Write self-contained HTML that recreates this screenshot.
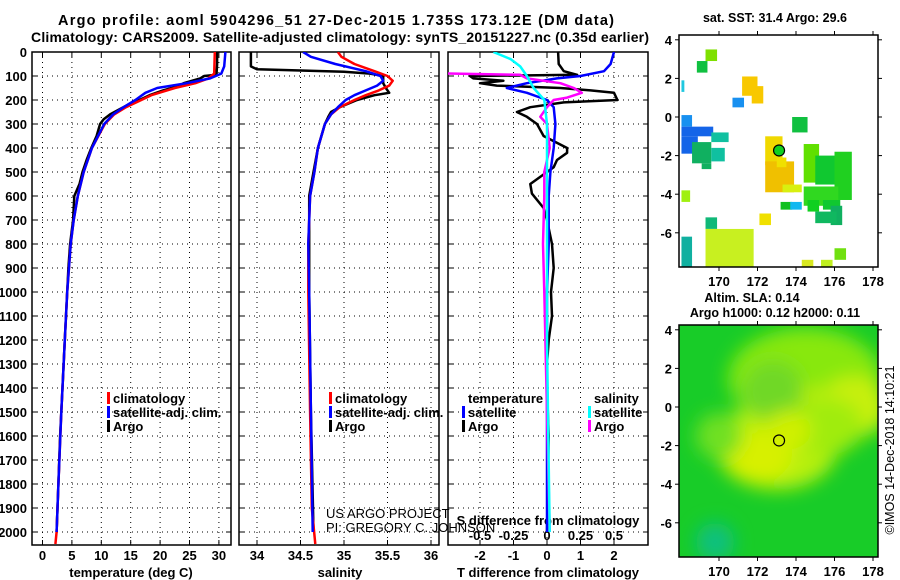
<!DOCTYPE html>
<html><head><meta charset="utf-8">
<style>
html,body{margin:0;padding:0;background:#fff;}
svg{display:block;font-family:"Liberation Sans",Arial,sans-serif;}
.b{font-weight:bold;}
</style></head>
<body>
<svg id="chart" width="900" height="580" viewBox="0 0 900 580"></svg>
<script>
// ---------- data ----------
const depthTicks=[0,100,200,300,400,500,600,700,800,900,1000,1100,1200,1300,1400,1500,1600,1700,1800,1900,2000];
const tempTicks=[0,5,10,15,20,25,30];
const salTicks=[34,34.5,35,35.5,36];
const tdiffTicks=[-2,-1,0,1,2];
const sdiffTicks=[-0.5,-0.25,0,0.25,0.5];
const sdiffLabels=["-0.5","-0.25","0","0.25","0.5"];

const tArgoD=[0,50,95,100,110,130,140,160,180,200,220,240,260,280,300,350,400,450,500,550,600,700,800,900,1000,1200,1400,1600,1800,2000];
const tArgoV=[29.7,29.7,29.6,27.5,26.8,24,23.4,20.5,18.2,16.5,14.5,13,11.5,10.4,9.8,9.2,8.3,7.5,6.8,6.3,5.4,5.2,4.7,4.4,4.2,3.8,3.4,3.0,2.7,2.4];
const tClimD=[0,90,110,130,150,180,200,230,260,300,400,500,600,700,800,1000,1200,1500,1800,2000,2050];
const tClimV=[29.3,29.2,28.2,26,22.5,18.5,16.8,14.2,12.2,10.6,8.4,7.0,6.0,5.3,4.8,4.2,3.8,3.2,2.7,2.4,2.2];
const tSatD=[0,60,90,110,130,150,170,200,230,260,300,400,500,600,700,800,1000,1200,1500,1800,2000];
const tSatV=[31.1,30.9,30.4,28.5,24.5,19.5,17.5,15.8,13.8,12.0,10.5,8.4,7.0,6.0,5.3,4.8,4.2,3.8,3.2,2.7,2.4];

const sArgoD=[0,60,72,78,82,90,100,130,150,170,180,200,230,250,270,300,350,400,500,600,800,1000,1500,2000];
const sArgoV=[33.93,33.93,34.0,34.6,35.0,35.3,35.45,35.45,35.48,35.52,35.35,35.15,34.95,34.85,34.82,34.78,34.74,34.7,34.65,34.6,34.6,34.6,34.62,34.65];
const sClimD=[0,20,50,80,100,120,140,160,180,200,230,260,300,400,500,600,800,1000,1500,1900,2050];
const sClimV=[34.93,34.97,35.12,35.35,35.5,35.56,35.52,35.4,35.25,35.12,34.95,34.85,34.78,34.7,34.66,34.61,34.59,34.59,34.61,34.63,34.67];
const sSatD=[0,20,50,80,100,120,140,160,180,200,230,260,300,400,500,600,800,1000,1500,2000];
const sSatV=[34.53,34.62,34.9,35.25,35.42,35.45,35.38,35.25,35.12,35.02,34.93,34.85,34.78,34.7,34.66,34.61,34.59,34.6,34.62,34.64];

const dTArgoD=[0,50,80,95,100,110,120,130,140,150,160,170,200,210,230,250,270,300,350,400,420,450,480,500,550,590,650,700,800,900,1000,1100,1200,1300,1400,1600,2000];
const dTArgoV=[0.33,0.35,0.5,0.9,-2.3,-2.2,-1.3,-2.0,-1.5,0.4,1.3,2.0,2.1,0.5,-0.5,-0.9,-0.6,-0.3,-0.1,0.6,0.6,0.3,0.2,0.0,-0.5,-0.45,-0.1,0.0,0.15,0.2,0.12,0.15,0.05,0.0,0.0,0.05,0.0];
const dTSatD=[0,50,80,100,110,130,150,170,200,230,300,400,500,600,800,1000,1500,2000];
const dTSatV=[2.0,1.9,1.7,1.0,0.3,-0.6,-1.2,-0.6,0.0,0.2,0.25,0.2,0.1,0.05,0.05,0.0,0.0,0.0];
const dSSatD=[0,30,60,100,150,200,300,500,800,1200,1600,2000];
const dSSatV=[-0.4,-0.27,-0.2,-0.15,-0.1,-0.02,0.0,0.0,0.0,0.0,0.01,0.02];
const dSArgoD=[0,88,95,110,130,150,170,190,200,230,270,300,400,500,600,800,1000,1500,2000];
const dSArgoV=[-1.0,-0.9,-0.2,-0.15,0.1,0.2,0.26,0.15,0.05,0.0,-0.05,0.0,0.02,-0.02,-0.02,-0.03,-0.02,0.0,0.02];

// map 1 (SST) blocks: lon0, lat0 (top-left), lon1, lat1, colour
const sstLon0=[169.3,168.85,168.05,171.2,171.7,170.7,168.05,168.05,168.05,169.6,168.6,169.6,169.1,172.4,173.8,172.4,174.4,173.3,175.0,176.0,174.4,175.4,173.2,173.7,174.6,175.8,175.0,172.1,169.3,169.3,168.05,168.05,176.0,174.3,175.3,173.0];
const sstLat0=[3.5,2.9,1.9,2.1,1.6,1.0,0.1,-0.5,-1.0,-0.8,-1.3,-1.6,-2.4,-1.0,0.0,-2.3,-1.4,-3.5,-2.0,-1.8,-3.6,-4.3,-4.4,-4.4,-4.3,-4.6,-4.9,-5.0,-5.2,-5.8,-6.2,-3.8,-6.8,-7.4,-7.4,-2.1];
const sstLon1=[169.9,169.4,168.2,172.0,172.3,171.3,168.6,169.7,168.9,170.5,169.6,170.3,169.6,173.3,174.6,173.9,175.2,174.3,176.2,176.9,176.2,176.3,173.8,174.3,175.2,176.4,176.1,172.7,169.9,171.8,168.6,168.5,176.6,174.9,175.9,173.5];
const sstLat1=[2.9,2.3,1.3,1.1,0.7,0.5,-0.5,-1.0,-1.9,-1.3,-2.4,-2.3,-2.7,-2.5,-0.8,-3.9,-3.4,-3.9,-3.5,-4.3,-4.6,-4.8,-4.8,-4.8,-4.9,-5.6,-5.5,-5.6,-5.8,-7.8,-7.8,-4.4,-7.4,-7.8,-7.8,-2.6];
const sstCol=["#7ee000","#10c040","#20c8e0","#f8c800","#f8c800","#1890f0","#1890f0","#1464e8","#1464e8","#10c0a0","#10b060","#10c0a0","#10b060","#f0d800","#10c040","#f0c000","#60e000","#d8f010","#10c830","#20d020","#30d820","#10c830","#10c020","#10b8f0","#10d020","#10b060","#10b860","#f0e000","#10b878","#c8f020","#10b0a0","#a0f010","#70e010","#d8e820","#c0f020","#f0e000"];

const mapLonTicks=[170,172,174,176,178];
const mapLatTicks=[4,2,0,-2,-4,-6];
const stationLon=[173.12];
const stationLat=[-1.735];

// map 2 (SLA) blobs: lon, lat, radius-lon, radius-lat, colour
const slaLon=[174.5,173.0,172.0,174.0,177.0,172.8,175.5,169.8,173.6,170.0];
const slaLat=[1.5,-2.0,-2.5,-0.5,0.0,0.8,-1.0,-7.0,-1.2,-1.5];
const slaRx=[4.0,3.2,1.8,2.2,1.8,1.6,2.0,1.0,1.2,1.2];
const slaRy=[2.6,2.3,1.3,1.6,1.6,1.6,1.5,1.0,1.0,1.2];
const slaCol=["#88e810","#b8f010","#d8f000","#c8f000","#c8f010","#70d828","#a0ec10","#10c080","#d0f000","#70e020"];

// ---------- helpers ----------
const NS="http://www.w3.org/2000/svg";
const svg=document.getElementById('chart');
function el(tag,attrs,parent){const e=document.createElementNS(NS,tag);for(const k in attrs)e.setAttribute(k,attrs[k]);(parent||svg).appendChild(e);return e;}
function txt(x,y,s,attrs,parent){const t=el('text',Object.assign({x:x,y:y},attrs),parent);t.textContent=s;return t;}

const yD=d=>52+d*0.24;
const PT=52, PB=545;
const xT=v=>42.5+v*5.88;
const xS=v=>257+(v-34)*87;
const xTd=v=>547+v*33.5;
const xSd=v=>547+v*134;
const panels=[{l:32,r:231,name:'temperature'},{l:239,r:439,name:'salinity'},{l:448,r:648,name:'difference'}];

const defs=el('defs',{});
panels.forEach((p,i)=>{const c=el('clipPath',{id:'clip'+i},defs);el('rect',{x:p.l,y:PT,width:p.r-p.l,height:PB-PT},c);});
const cm1=el('clipPath',{id:'clipm1'},defs);el('rect',{x:679,y:35,width:199,height:232},cm1);
const cm2=el('clipPath',{id:'clipm2'},defs);el('rect',{x:679,y:325,width:199,height:232},cm2);
const blur=el('filter',{id:'blur',x:'-50%',y:'-50%',width:'200%',height:'200%'},defs);
el('feGaussianBlur',{stdDeviation:'9'},blur);

let t;
t=txt(336,25,"Argo profile: aoml 5904296_51 27-Dec-2015 1.735S 173.12E (DM data)",{'text-anchor':'middle','font-size':'14.5',class:'b',textLength:'556',lengthAdjust:'spacing'});

t=txt(340,42,"Climatology: CARS2009. Satellite-adjusted climatology: synTS_20151227.nc (0.35d earlier)",{'text-anchor':'middle','font-size':'14',class:'b',textLength:'618',lengthAdjust:'spacing'});


panels.forEach((p,i)=>{
  const g=el('g',{});
  
  
  depthTicks.forEach(d=>{
    const gl=el('line',{x1:p.l,x2:p.r,y1:yD(d),y2:yD(d),stroke:'#000','stroke-width':1,'stroke-dasharray':'1,4'},g);
    
    el('line',{x1:p.l,x2:p.l+5,y1:yD(d),y2:yD(d),stroke:'#000'},g);
    el('line',{x1:p.r-5,x2:p.r,y1:yD(d),y2:yD(d),stroke:'#000'},g);
  });
  let xs,fx;
  if(i===0){xs=tempTicks;fx=xT;}else if(i===1){xs=salTicks;fx=xS;}else{xs=tdiffTicks;fx=xTd;}
  xs.forEach(v=>{
    el('line',{x1:fx(v),x2:fx(v),y1:PT,y2:PB,stroke:'#000','stroke-width':1,'stroke-dasharray':'1,4'},g);
    el('line',{x1:fx(v),x2:fx(v),y1:PB-5,y2:PB,stroke:'#000'},g);
    el('line',{x1:fx(v),x2:fx(v),y1:PT,y2:PT+5,stroke:'#000'},g);
    const lb=txt(fx(v),560,String(v),{'text-anchor':'middle','font-size':'13',class:'b'},g);
    
  });
  const fr=el('rect',{x:p.l,y:PT,width:p.r-p.l,height:PB-PT,fill:'none',stroke:'#000','stroke-width':1.5},g);
  
});
depthTicks.forEach(d=>{
  const lb=txt(27,yD(d)+5,String(d),{'text-anchor':'end','font-size':'13',class:'b'});
  
});
t=txt(131,577,"temperature (deg C)",{'text-anchor':'middle','font-size':'13',class:'b'});
t=txt(340,577,"salinity",{'text-anchor':'middle','font-size':'13',class:'b'});
t=txt(548,577,"T difference from climatology",{'text-anchor':'middle','font-size':'13',class:'b'});
t=txt(548,525,"S difference from climatology",{'text-anchor':'middle','font-size':'13',class:'b'});
sdiffTicks.forEach((v,i)=>{
  const lb=txt(xSd(v),540,sdiffLabels[i],{'text-anchor':'middle','font-size':'13',class:'b'});
  
});

function series(D,V,fx,color,clip,name){
  const pts=D.map((d,i)=>fx(V[i]).toFixed(1)+','+yD(d).toFixed(1)).join(' ');
  const pl=el('polyline',{points:pts,fill:'none',stroke:color,'stroke-width':2.5,'stroke-linejoin':'round','clip-path':'url(#clip'+clip+')'});
  
  
}
series(tArgoD,tArgoV,xT,'#000',0,'temp-argo-line');
series(tClimD,tClimV,xT,'#f00',0,'temp-climatology-line');
series(tSatD,tSatV,xT,'#00f',0,'temp-satellite-line');
series(sArgoD,sArgoV,xS,'#000',1,'sal-argo-line');
series(sClimD,sClimV,xS,'#f00',1,'sal-climatology-line');
series(sSatD,sSatV,xS,'#00f',1,'sal-satellite-line');
series(dTArgoD,dTArgoV,xTd,'#000',2,'tdiff-argo-line');
series(dTSatD,dTSatV,xTd,'#00f',2,'tdiff-satellite-line');
series(dSArgoD,dSArgoV,xSd,'#f0f',2,'sdiff-argo-line');
series(dSSatD,dSSatV,xSd,'#0ff',2,'sdiff-satellite-line');

function legItem(x,y,color,label,name){
  const g=el('g',{});
  
  
  if(color) el('rect',{x:x-6,y:y-11,width:3,height:12,fill:color},g);
  txt(x,y,label,{'font-size':'13',class:'b'},g);
}
legItem(113,403,'#f00','climatology','legend-entry-climatology');
legItem(113,417,'#00f','satellite-adj. clim.','legend-entry-satellite-adj');
legItem(113,431,'#000','Argo','legend-entry-argo');
legItem(335,403,'#f00','climatology','legend-entry-climatology');
legItem(335,417,'#00f','satellite-adj. clim.','legend-entry-satellite-adj');
legItem(335,431,'#000','Argo','legend-entry-argo');
legItem(468,403,null,'temperature','legend-header-temperature');
legItem(468,417,'#00f','satellite','legend-entry-t-satellite');
legItem(468,431,'#000','Argo','legend-entry-t-argo');
legItem(594,403,null,'salinity','legend-header-salinity');
legItem(594,417,'#0ff','satellite','legend-entry-s-satellite');
legItem(594,431,'#f0f','Argo','legend-entry-s-argo');
t=txt(326,518,"US ARGO PROJECT",{'font-size':'13'});
t=txt(326,532,"PI: GREGORY C. JOHNSON",{'font-size':'13'});

const mx=lon=>719+(lon-170)*19.25;
const my1=lat=>117-lat*19.3;
const my2=lat=>407-lat*19.3;
function mapAxes(top,bot,my,name){
  const g=el('g',{});
  
  
  el('rect',{x:679,y:top,width:199,height:bot-top,fill:'none',stroke:'#000','stroke-width':1.5},g);
  mapLonTicks.forEach(v=>{
    el('line',{x1:mx(v),x2:mx(v),y1:bot,y2:bot+4,stroke:'#000'},g);
    el('line',{x1:mx(v),x2:mx(v),y1:top-4,y2:top,stroke:'#000'},g);
    txt(mx(v),bot+19,String(v),{'text-anchor':'middle','font-size':'13',class:'b'},g);
  });
  mapLatTicks.forEach(v=>{
    el('line',{x1:675,x2:679,y1:my(v),y2:my(v),stroke:'#000'},g);
    el('line',{x1:878,x2:882,y1:my(v),y2:my(v),stroke:'#000'},g);
    txt(672,my(v)+5,String(v),{'text-anchor':'end','font-size':'13',class:'b'},g);
  });
}
const m1=el('g',{'clip-path':'url(#clipm1)'});

sstLon0.forEach((lo,i)=>{
  const r=el('rect',{x:mx(lo),y:my1(sstLat0[i]),width:mx(sstLon1[i])-mx(lo),height:my1(sstLat1[i])-my1(sstLat0[i]),fill:sstCol[i]},m1);
  
  
});
let c=el('circle',{cx:mx(stationLon[0]),cy:my1(stationLat[0]),r:5.5,fill:'#10d020',stroke:'#000','stroke-width':1.2});

mapAxes(35,267,my1,'sst-map-axes');
t=txt(775,22,"sat. SST: 31.4 Argo: 29.6",{'text-anchor':'middle','font-size':'12.5',class:'b'});

const m2=el('g',{'clip-path':'url(#clipm2)'});

el('rect',{x:679,y:325,width:199,height:232,fill:'#18cc28'},m2);
const bg2=el('g',{filter:'url(#blur)'},m2);
slaLon.forEach((lo,i)=>{
  const e=el('ellipse',{cx:mx(lo),cy:my2(slaLat[i]),rx:slaRx[i]*19.25,ry:slaRy[i]*19.3,fill:slaCol[i]},bg2);
  
  
});
c=el('circle',{cx:mx(stationLon[0]),cy:my2(stationLat[0]),r:5.5,fill:'none',stroke:'#000','stroke-width':1.2});

mapAxes(325,557,my2,'sla-map-axes');
t=txt(752,302,"Altim. SLA: 0.14",{'text-anchor':'middle','font-size':'12.5',class:'b'});
t=txt(775,317,"Argo h1000: 0.12 h2000: 0.11",{'text-anchor':'middle','font-size':'12.5',class:'b'});
t=txt(0,0,"©IMOS 14-Dec-2018 14:10:21",{'text-anchor':'middle','font-size':'12.5',transform:'translate(894,450) rotate(-90)'});
</script>
</body></html>
